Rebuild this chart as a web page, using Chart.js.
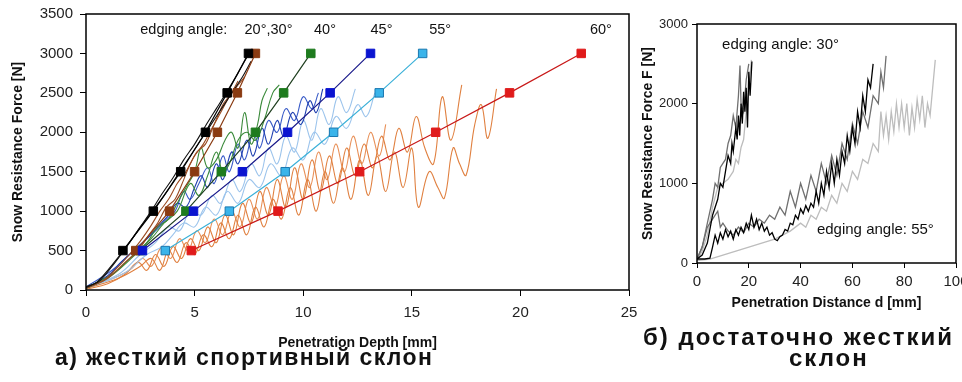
<!DOCTYPE html>
<html>
<head>
<meta charset="utf-8">
<script src="https://cdn.jsdelivr.net/npm/chart.js@4"></script>
<style>
  body { margin: 0; width: 962px; height: 382px; background: #fff; overflow: hidden; position: relative;
         font-family: "Liberation Sans", Arial, sans-serif; }
  canvas { position: absolute; top: 0; }
  #left { left: 0; }
  #right { left: 630px; }
  .cap { position: absolute; font-weight: bold; font-size: 23px; letter-spacing: 1.4px; line-height: 26px;
         color: #111; white-space: nowrap; }
  .capr { font-size: 24px; letter-spacing: 2px; }
</style>
</head>
<body>
<canvas id="left" width="645" height="352"></canvas>
<canvas id="right" width="332" height="312"></canvas>
<div class="cap" style="left:55px;top:344px">а) жесткий спортивный склон</div>
<div class="cap capr" style="left:643px;top:324px">б) достаточно жесткий</div>
<div class="cap capr" style="left:789px;top:345px">склон</div>
<script>
// ---- left panel: square markers (force levels vs depth for each edging angle)
const markerForces = [500, 1000, 1500, 2000, 2500, 3000];
const depth20 = [1.7, 3.1, 4.36, 5.5, 6.5, 7.48];
const depth30 = [2.29, 3.85, 5.0, 6.05, 6.97, 7.8];
const depth40 = [2.5, 4.6, 6.23, 7.8, 9.1, 10.35];
const depth45 = [2.6, 4.95, 7.2, 9.28, 11.24, 13.1];
const depth55 = [3.65, 6.6, 9.17, 11.4, 13.5, 15.5];
const depth60 = [4.85, 8.84, 12.6, 16.1, 19.5, 22.8];

// ---- left panel: raw measurement curves [depth mm, force N]
const black20a = [[0,30],[0.5,100],[1,250],[1.5,420],[2,600],[2.5,800],[3,1000],[3.5,1220],[4,1420],[4.5,1650],[5,1850],[5.5,2080],[6,2300],[6.5,2520],[7,2750],[7.4,2950]];
const black20b = [[0,40],[0.6,110],[1.2,300],[1.8,520],[2.4,760],[3,980],[3.6,1200],[4.2,1450],[4.8,1700],[5.4,1950],[6,2200],[6.6,2450],[7.2,2700],[7.6,2900]];
const brown30a = [[0,30],[0.8,120],[1.5,300],[2,450],[2.5,620],[3,820],[3.4,1000],[3.8,1150],[4.2,1350],[4.6,1500],[5,1700],[5.4,1850],[5.8,2050],[6.2,2250],[6.6,2450],[7,2600],[7.3,2700]];
const brown30b = [[0,20],[1,150],[1.8,350],[2.4,500],[2.9,700],[3.3,850],[3.7,1050],[4.1,1150],[4.5,1400],[4.8,1600],[5.1,1750],[5.5,1850],[5.9,2100],[6.3,2350],[6.7,2500],[7.0,2650]];
const green40a = [[0,20],[1,150],[2,380],[2.8,600],[3.3,800],[3.8,900],[4.2,1100],[4.6,1300],[5.0,1500],[5.3,1800],[5.6,1550],[6.0,1650],[6.4,1900],[6.7,2000],[7.0,1800],[7.3,2250],[7.6,1850],[7.9,2100],[8.1,2400],[8.35,2560]];
const green40b = [[0,30],[1.2,200],[2.2,450],[3,650],[3.6,850],[4.2,1000],[4.8,1350],[5.2,1200],[5.6,1450],[6,1750],[6.3,1500],[6.6,1600],[7,1900],[7.4,2000],[7.8,1900],[8.2,2150],[8.6,2500],[8.9,2600]];
const blue45a = [[0,20],[1,180],[1.6,350],[2.2,500],[2.8,650],[3.3,800],[3.8,950],[4.2,1100],[4.6,1050],[5,1300],[5.3,1450],[5.6,1300],[6,1600],[6.3,1400],[6.7,1750],[7,1600],[7.4,1900],[7.7,1700],[8.1,2050],[8.4,1850],[8.8,2150],[9.1,1950],[9.5,2250],[9.9,2100],[10.3,2400],[10.6,2250],[10.9,2550]];
const blue45b = [[0,40],[1.2,250],[2,450],[2.6,600],[3.2,750],[3.7,900],[4.1,1000],[4.5,1250],[4.8,1150],[5.2,1350],[5.6,1550],[5.9,1350],[6.3,1700],[6.6,1500],[7,1850],[7.3,1650],[7.7,2000],[8.0,1800],[8.4,2150],[8.8,2000],[9.2,2300],[9.6,2150],[10,2450],[10.4,2300],[10.7,2500]];
const pale55a = [[0,30],[1.5,200],[2.5,450],[3.2,600],[3.8,800],[4.3,750],[4.8,1000],[5.3,950],[5.8,1200],[6.2,1100],[6.7,1400],[7.1,1250],[7.6,1600],[8,1450],[8.4,1800],[8.8,1600],[9.2,1950],[9.6,1750],[10,2150],[10.4,1900],[10.8,2300],[11.2,2100],[11.6,2450],[12.0,2250],[12.4,2550]];
const pale55b = [[0,20],[1.8,220],[2.8,450],[3.5,550],[4,700],[4.5,850],[5,800],[5.5,1050],[6,950],[6.5,1250],[7,1100],[7.5,1400],[8,1300],[8.5,1600],[9,1450],[9.5,1800],[10,1650],[10.5,2000],[11,1850],[11.5,2200],[12,2050],[12.5,2350],[12.9,2200],[13.3,2500]];
const orange60a = [[0,10],[1,80],[1.8,200],[2.4,350],[2.8,250],[3.2,450],[3.6,300],[4,550],[4.4,400],[4.8,650],[5.2,500],[5.6,800],[6,600],[6.4,950],[6.8,700],[7.2,1100],[7.6,850],[8,1250],[8.4,950],[8.8,1400],[9.2,1050],[9.6,1550],[10,1150],[10.4,1650],[10.8,1250],[11.2,1700],[11.6,1350],[12,1800],[12.4,1450],[12.8,1850],[13.2,1550],[13.6,1950],[14,1650],[14.4,2050],[14.8,1750],[15.2,2200],[15.6,1800],[16,1600],[16.4,2450],[16.8,1900],[17.3,2600]];
const orange60b = [[0,20],[1.5,150],[2.5,300],[3,400],[3.4,250],[3.8,500],[4.2,350],[4.6,600],[5,450],[5.4,700],[5.8,550],[6.2,850],[6.6,650],[7,950],[7.4,700],[7.8,1050],[8.2,800],[8.6,1150],[9,900],[9.4,1300],[9.8,950],[10.2,1400],[10.6,1000],[11,1500],[11.4,1100],[11.8,1550],[12.2,1150],[12.6,1650],[13,1200],[13.4,1700],[13.8,1250],[14.2,1750],[14.6,1300],[15,1800],[15.3,1050],[15.8,1500],[16.2,1300],[16.5,1165],[16.9,1800],[17.2,1600],[17.5,1456],[17.9,2100],[18.2,2350],[18.5,1924],[18.9,2550]];
const orange60c = [[0,40],[1,120],[2,250],[2.6,400],[3,300],[3.5,550],[3.9,400],[4.3,650],[4.7,500],[5.1,750],[5.5,600],[5.9,900],[6.3,700],[6.7,1000],[7.1,800],[7.5,1150],[7.9,900],[8.3,1300],[8.7,1050],[9.1,1450],[9.5,1150],[9.9,1600],[10.3,1300],[10.7,1750],[11.1,1400],[11.5,1850],[11.9,1500],[12.3,1950],[12.7,1600],[13.1,2000],[13.5,1700],[13.8,2100]];

// ---- right panel: penetration distance [mm] vs force F [N]
const black30 = [[0,50],[2,100],[4,250],[6,600],[8,800],[9,1000],[10,950],[11,1150],[12,1350],[13,1250],[13.5,1500],[14,1400],[15,1700],[15.5,1550],[16,1850],[16.5,1600],[17,2000],[17.5,1750],[18,2150],[18.5,1900],[19,2200],[19.5,1700],[20,2400],[20.5,2100],[21.2,2530]];
const dark30 = [[0,50],[2,200],[4,500],[6,800],[7,1000],[8,950],[9,1200],[10,1250],[11,1300],[12,1500],[13,1600],[14,1850],[15,1700],[16,2100],[16.6,2480],[17,2000],[18,1900],[19,2300],[20,2500]];
const light30 = [[0,30],[2,150],[4,350],[6,700],[8,950],[10,1000],[12,1050],[14,1150],[15,1300],[16,1250],[17,1450],[18,1550],[19,1900],[20,2200],[21,2550]];
const black55 = [[0,50],[3,50],[5,60],[6,200],[7,350],[8,250],[9,380],[10,300],[11,420],[12,330],[13,400],[14,300],[15,420],[16,350],[17,450],[18,380],[19,500],[20,420],[21,600],[22,450],[23,550],[24,420],[25,500],[26,400],[27,450],[28,350],[29,380],[30,300],[31,280],[32,330],[33,350],[34,420],[35,400],[36,500],[37,480],[38,600],[39,550],[40,680],[41,620],[42,720],[43,650],[44,750],[45,700],[46,900],[47,750],[48,1000],[49,850],[50,1150],[51,950],[52,1250],[53,1000],[54,1300],[55,1100],[56,1400],[57,1250],[58,1600],[59,1400],[60,1700],[61,1500],[62,1900],[63,1700],[64,2100],[65,1900],[66,2300],[67,2200],[68,2500]];
const dark55 = [[0,50],[2,200],[4,450],[6,550],[8,650],[9,450],[10,500],[12,400],[14,350],[16,450],[18,380],[20,500],[22,450],[24,550],[26,500],[28,600],[30,550],[32,700],[34,600],[36,900],[38,700],[40,1000],[42,800],[44,1100],[46,900],[48,1250],[50,1000],[52,1350],[54,1100],[56,1500],[58,1300],[60,1750],[62,1500],[64,1900],[66,1700],[68,2100],[70,2000],[71,2400],[72,2200],[73,2600]];
const light55 = [[0,30],[5,50],[10,100],[15,150],[20,200],[25,250],[30,300],[33,350],[36,400],[40,500],[42,450],[44,600],[46,550],[48,700],[50,650],[52,850],[54,750],[56,1000],[58,900],[60,1150],[62,1050],[64,1300],[66,1250],[68,1500],[70,1400],[71,1900],[72,1600],[73,1850],[74,1550],[75,1900],[76,1650],[77,2000],[78,1700],[79,2000],[80,1700],[81,2000],[82,1600],[83,1950],[84,1700],[85,2050],[86,1800],[87,2100],[88,1700],[89,2000],[90,1850],[91,2200],[92,2550]];

const leftTicksY = [0, 500, 1000, 1500, 2000, 2500, 3000, 3500];
const leftTicksX = [0, 5, 10, 15, 20, 25];
const rightTicksY = [0, 1000, 2000, 3000];
const rightTicksX = [0, 20, 40, 60, 80, 100];

const FAMILY = "'Liberation Sans', Arial, sans-serif";
Chart.defaults.font.family = FAMILY;
Chart.defaults.animation = false;

function pts(a) { return a.map(p => ({ x: p[0], y: p[1] })); }
function curve(a, color, w, tension) {
  return { data: pts(a), showLine: true, borderColor: color, borderWidth: w, pointRadius: 0, tension: tension, order: 1 };
}
function marks(xs, fill, border, line) {
  return { data: xs.map((x, i) => ({ x: x, y: markerForces[i] })), showLine: true, borderColor: line, borderWidth: 1.2,
           pointStyle: 'rect', pointRadius: 6, pointBackgroundColor: fill, pointBorderColor: border, pointBorderWidth: 1, order: 0 };
}

// frame around the plot area + free text labels
function framePlugin(notes, font) {
  return {
    id: 'frame',
    afterDraw(chart) {
      const { ctx, chartArea: a, scales } = chart;
      ctx.save();
      ctx.strokeStyle = '#000';
      ctx.lineWidth = 1.5;
      ctx.strokeRect(a.left, a.top, a.right - a.left, a.bottom - a.top);
      ctx.fillStyle = '#111';
      ctx.font = font;
      ctx.textBaseline = 'middle';
      notes.forEach(n => ctx.fillText(n.text, scales.x.getPixelForValue(n.x), scales.y.getPixelForValue(n.y)));
      ctx.restore();
    }
  };
}

function axes(xMin, xMax, yMax, xTitle, yTitle, xTicks, yTicks, sizes) {
  return {
    x: {
      type: 'linear', min: xMin, max: xMax,
      afterBuildTicks: s => { s.ticks = xTicks.map(v => ({ value: v })); },
      ticks: { color: '#222', font: { size: sizes.xTick }, padding: sizes.xPad, maxRotation: 0, autoSkip: false,
               callback: v => String(v) },
      grid: { drawOnChartArea: false, tickLength: sizes.tick, color: '#000' },
      border: { display: false },
      title: { display: true, text: xTitle, color: '#111', font: { size: 14, weight: 'bold' }, padding: { top: sizes.xTitlePad, bottom: 0 } },
      afterFit: s => { s.height = sizes.xHeight; s.paddingLeft = 0; s.paddingRight = 0; }
    },
    y: {
      type: 'linear', min: 0, max: yMax,
      afterBuildTicks: s => { s.ticks = yTicks.map(v => ({ value: v })); },
      ticks: { color: '#222', font: { size: sizes.yTick }, padding: sizes.yPad, callback: v => String(v) },
      grid: { drawOnChartArea: false, tickLength: sizes.tick, color: '#000' },
      border: { display: false },
      title: { display: true, text: yTitle, color: '#111', font: { size: 14, weight: 'bold' }, padding: { top: 10, bottom: 0 } },
      afterFit: s => { s.width = sizes.yWidth; s.paddingTop = 0; s.paddingBottom = 0; }
    }
  };
}

new Chart(document.getElementById('left'), {
  type: 'scatter',
  data: {
    datasets: [
      marks(depth60, '#e01b1b', '#e01b1b', '#c81818'),
      marks(depth55, '#3ab4ea', '#1a78b0', '#3ab0d8'),
      marks(depth45, '#0a14d0', '#0a14d0', '#1a1a8a'),
      marks(depth20, '#000000', '#000000', '#000000'),
      marks(depth30, '#8a3b12', '#8a3b12', '#8a3b12'),
      marks(depth40, '#1e7b1e', '#1e7b1e', '#1f3f1f'),
      curve(black20a, '#111', 1.1, 0.3),
      curve(black20b, '#111', 1.1, 0.3),
      curve(brown30a, '#9a4a20', 1.1, 0.3),
      curve(brown30b, '#9a4a20', 1.1, 0.3),
      curve(green40a, '#3a8a3a', 1.1, 0.4),
      curve(green40b, '#3a8a3a', 1.1, 0.4),
      curve(blue45a, '#2040b0', 1.1, 0.4),
      curve(blue45b, '#3a5cc8', 1.1, 0.4),
      curve(pale55a, '#9cc4ec', 1.1, 0.4),
      curve(pale55b, '#9cc4ec', 1.1, 0.4),
      curve(orange60a, '#e08040', 1.1, 0.4),
      curve(orange60b, '#e08040', 1.1, 0.4),
      curve(orange60c, '#e89058', 1.1, 0.4)
    ]
  },
  options: {
    responsive: false,
    layout: { padding: { top: 14, right: 16, left: 0, bottom: 0 } },
    plugins: { legend: { display: false }, tooltip: { enabled: false } },
    scales: axes(0, 25, 3500, 'Penetration Depth [mm]', 'Snow Resistance Force [N]', leftTicksX, leftTicksY,
      { xTick: 15, yTick: 15, xPad: 8, yPad: 7, tick: 6, xHeight: 62, yWidth: 86, xTitlePad: 5 })
  },
  plugins: [framePlugin([
    { text: 'edging angle:', x: 2.5, y: 3300 },
    { text: '20°,30°', x: 7.3, y: 3300 },
    { text: '40°', x: 10.5, y: 3300 },
    { text: '45°', x: 13.1, y: 3300 },
    { text: '55°', x: 15.8, y: 3300 },
    { text: '60°', x: 23.2, y: 3300 }
  ], '14.5px ' + FAMILY)]
});

new Chart(document.getElementById('right'), {
  type: 'scatter',
  data: {
    datasets: [
      curve(black30, '#000', 1.3, 0),
      curve(black55, '#000', 1.3, 0),
      curve(dark30, '#707070', 1.3, 0),
      curve(dark55, '#707070', 1.3, 0),
      curve(light30, '#bdbdbd', 1.3, 0),
      curve(light55, '#bdbdbd', 1.3, 0)
    ]
  },
  options: {
    responsive: false,
    layout: { padding: { top: 24, right: 6, left: 0, bottom: 0 } },
    plugins: { legend: { display: false }, tooltip: { enabled: false } },
    scales: axes(0, 100, 3000, 'Penetration Distance d [mm]', 'Snow Resistance Force F [N]', rightTicksX, rightTicksY,
      { xTick: 15, yTick: 13, xPad: 5, yPad: 4, tick: 5, xHeight: 49, yWidth: 67, xTitlePad: 6 })
  },
  plugins: [framePlugin([
    { text: 'edging angle: 30°', x: 9.7, y: 2738 },
    { text: 'edging angle: 55°', x: 46.3, y: 411 }
  ], '15px ' + FAMILY)]
});
</script>
</body>
</html>
